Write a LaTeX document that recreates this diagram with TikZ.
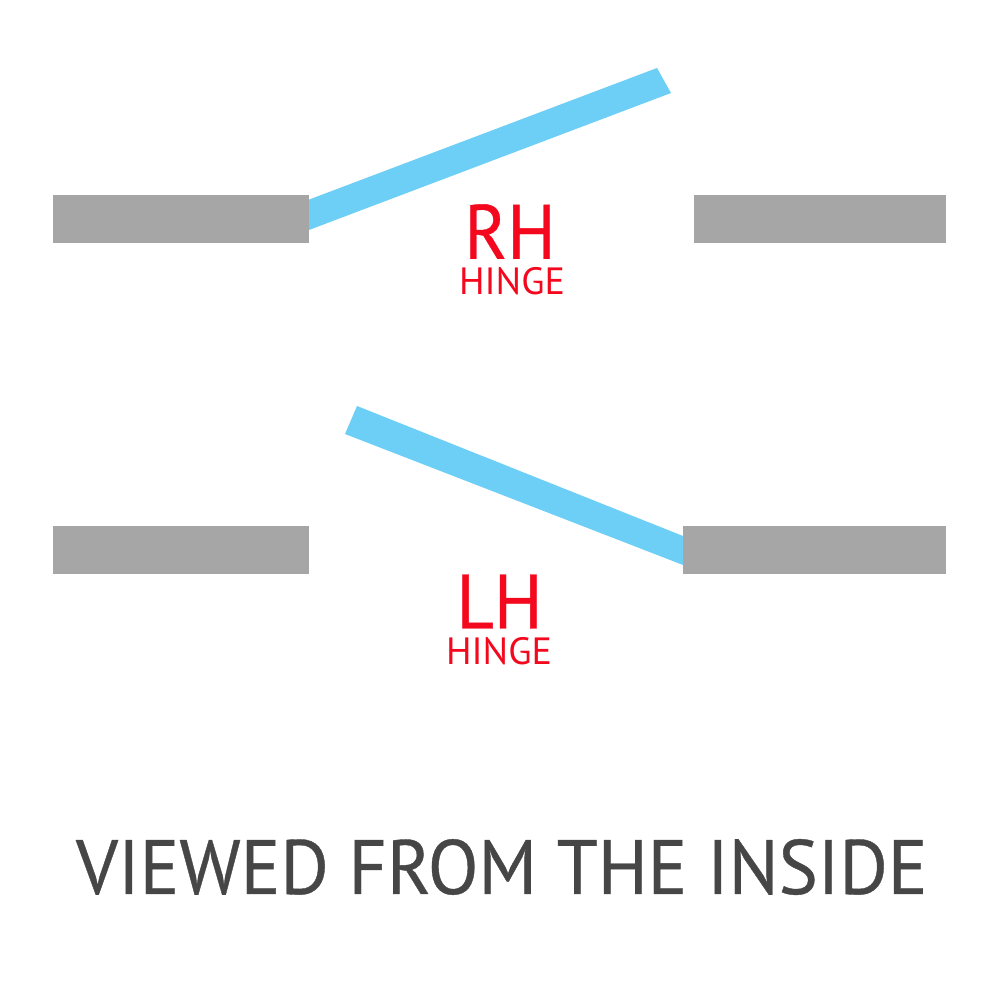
\documentclass[tikz,border=0pt]{standalone}
\usepackage{graphicx}
\usepackage{fontspec}
\setmainfont{PT Sans}
\newfontfamily\capfont[FakeBold=0.5]{PT Sans}
\definecolor{wallgrey}{HTML}{A6A6A6}
\definecolor{doorblue}{HTML}{6DCFF6}
\definecolor{hingered}{HTML}{F4081E}
\definecolor{captiongrey}{HTML}{464646}
\tikzset{
  wall/.style={fill=wallgrey,draw=none},
  door/.style={fill=doorblue,draw=none},
  big/.style={text=hingered,font=\capfont\fontsize{77}{77}\selectfont,inner sep=0pt,anchor=center},
  small/.style={text=hingered,font=\fontsize{38}{38}\selectfont,inner sep=0pt,anchor=center},
  caption/.style={text=captiongrey,font=\capfont\fontsize{77}{77}\selectfont,inner sep=0pt,anchor=center}
}
\begin{document}
\begin{tikzpicture}[x=1pt,y=-1pt]
\useasboundingbox (0,0) rectangle (1000,1000);
\fill[white] (0,0) rectangle (1000,1000);
\fill[door] (300,203) -- (657,68) -- (671,93) -- (300,233.4) -- cycle;
\fill[door] (357,406) -- (345,434) -- (690,567.7) -- (690,538.8) -- cycle;
\fill[wall] (53,195) rectangle (309,243);
\fill[wall] (694,195) rectangle (946,243);
\fill[wall] (53,526) rectangle (309,574);
\fill[wall] (683,526) rectangle (946,574);
\node[big] (rh) at (510,231.5) {\scalebox{.94}[1]{RH}};
\node[small] (rhh) at (512,281.5) {HINGE};
\node[big] (lh) at (499.5,601.5) {\scalebox{.94}[1]{LH}};
\node[small] (lhh) at (499,651.5) {HINGE};
\node[caption] (cap) at (501.8,867) {\scalebox{.962}[1]{VIEWED FROM THE INSIDE}};
\end{tikzpicture}
\end{document}
